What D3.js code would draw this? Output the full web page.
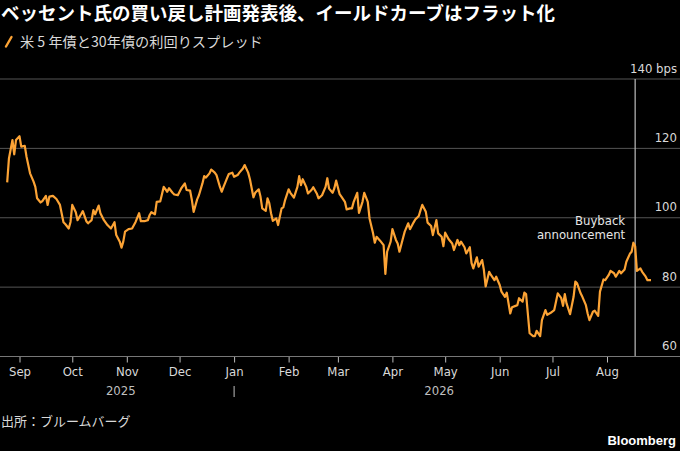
<!DOCTYPE html>
<html>
<head>
<meta charset="utf-8">
<script src="https://cdn.jsdelivr.net/npm/d3@7"></script>
<style>
  body { margin: 0; background: #000; }
  svg { display: block; }
  .cjk { font-family: "Noto Sans CJK JP", "Noto Sans", sans-serif; }
  .lat { font-family: "DejaVu Sans Condensed", "Liberation Sans Narrow", "DejaVu Sans", sans-serif; font-stretch: condensed; }
</style>
</head>
<body>
<div id="chart"></div>
<script>
// spread between US 5y and 30y yields, bps
let dates = [
  "2025-08-25","2025-08-26","2025-08-28","2025-08-29","2025-08-30","2025-09-01","2025-09-02","2025-09-04",
  "2025-09-05","2025-09-07","2025-09-09","2025-09-10","2025-09-11","2025-09-13","2025-09-14","2025-09-16",
  "2025-09-17","2025-09-18","2025-09-20","2025-09-22","2025-09-24","2025-09-26","2025-09-27","2025-09-29",
  "2025-09-30","2025-10-01","2025-10-03","2025-10-04","2025-10-06","2025-10-07","2025-10-09","2025-10-10",
  "2025-10-12","2025-10-13","2025-10-14","2025-10-16","2025-10-17","2025-10-19","2025-10-21","2025-10-22",
  "2025-10-23","2025-10-25","2025-10-26","2025-10-28","2025-10-29","2025-10-30","2025-10-31","2025-11-02",
  "2025-11-04","2025-11-06","2025-11-08","2025-11-09","2025-11-11","2025-11-13","2025-11-14","2025-11-15",
  "2025-11-17","2025-11-18","2025-11-20","2025-11-22","2025-11-24","2025-11-25","2025-11-27","2025-11-28",
  "2025-11-30","2025-12-02","2025-12-04","2025-12-05","2025-12-07","2025-12-08","2025-12-09","2025-12-11",
  "2025-12-12","2025-12-14","2025-12-15","2025-12-16","2025-12-18","2025-12-19","2025-12-21","2025-12-22",
  "2025-12-24","2025-12-25","2025-12-26","2025-12-28","2025-12-29","2025-12-31","2026-01-01","2026-01-03",
  "2026-01-04","2026-01-06","2026-01-07","2026-01-09","2026-01-10","2026-01-12","2026-01-13","2026-01-15",
  "2026-01-16","2026-01-17","2026-01-19","2026-01-20","2026-01-21","2026-01-22","2026-01-23","2026-01-25",
  "2026-01-26","2026-01-28","2026-01-29","2026-01-30","2026-02-01","2026-02-02","2026-02-04","2026-02-06",
  "2026-02-07","2026-02-08","2026-02-09","2026-02-11","2026-02-12","2026-02-14","2026-02-15","2026-02-17",
  "2026-02-18","2026-02-20","2026-02-22","2026-02-23","2026-02-24","2026-02-26","2026-02-27","2026-02-28",
  "2026-03-02","2026-03-03","2026-03-05","2026-03-06","2026-03-08","2026-03-09","2026-03-10","2026-03-12",
  "2026-03-13","2026-03-15","2026-03-16","2026-03-18","2026-03-19","2026-03-21","2026-03-22","2026-03-23",
  "2026-03-25","2026-03-27","2026-03-28","2026-03-29","2026-03-31","2026-04-01","2026-04-03","2026-04-04",
  "2026-04-05","2026-04-07","2026-04-08","2026-04-10","2026-04-11","2026-04-13","2026-04-14","2026-04-16",
  "2026-04-17","2026-04-18","2026-04-20","2026-04-21","2026-04-23","2026-04-24","2026-04-26","2026-04-27",
  "2026-04-29","2026-04-30","2026-05-01","2026-05-03","2026-05-05","2026-05-06","2026-05-08","2026-05-09",
  "2026-05-10","2026-05-12","2026-05-13","2026-05-15","2026-05-16","2026-05-17","2026-05-19","2026-05-20",
  "2026-05-22","2026-05-23","2026-05-24","2026-05-26","2026-05-27","2026-05-29","2026-05-30","2026-06-01",
  "2026-06-02","2026-06-04","2026-06-05","2026-06-07","2026-06-08","2026-06-10","2026-06-11","2026-06-12",
  "2026-06-14","2026-06-15","2026-06-16","2026-06-18","2026-06-20","2026-06-21","2026-06-22","2026-06-24",
  "2026-06-25","2026-06-27","2026-06-28","2026-06-30","2026-07-02","2026-07-03","2026-07-04","2026-07-06",
  "2026-07-07","2026-07-08","2026-07-09","2026-07-11","2026-07-13","2026-07-14","2026-07-15","2026-07-17",
  "2026-07-18","2026-07-20","2026-07-21","2026-07-22","2026-07-24","2026-07-25","2026-07-27","2026-07-28",
  "2026-07-30","2026-07-31","2026-08-02","2026-08-03","2026-08-05","2026-08-06","2026-08-08","2026-08-09",
  "2026-08-11","2026-08-12","2026-08-14","2026-08-15","2026-08-16","2026-08-17","2026-08-18","2026-08-20",
  "2026-08-21","2026-08-23","2026-08-24","2026-08-26"
];
let spread = [
  110.2,117.1,122.4,118.3,122.4,123.5,120.5,120.7,
  117.6,112.8,110.4,108.9,105.6,104.4,104.8,106.3,
  103.7,106.1,106.3,105.4,103.7,98.7,98.2,96.9,
  98.8,103.7,101.6,99.3,101.0,101.9,99.0,98.4,
  99.3,102.2,101.0,103.5,101.3,99.3,97.9,97.4,
  96.9,98.7,95.0,93.1,91.4,93.1,96.0,96.7,
  96.9,98.8,101.3,99.0,99.0,99.3,100.8,101.6,
  101.0,104.6,104.7,108.9,107.5,108.5,107.2,106.7,
  106.5,108.5,109.9,108.0,107.8,105.1,101.7,105.3,
  106.5,109.9,112.0,111.6,112.8,113.9,113.0,112.3,
  108.8,107.5,108.9,111.4,112.6,113.0,111.8,112.3,
  113.0,114.2,115.2,113.0,111.1,105.9,107.2,108.2,
  106.1,102.7,102.0,105.6,104.2,101.3,99.1,99.8,
  97.9,102.7,103.0,105.1,108.2,107.2,105.8,108.9,
  112.0,109.4,111.1,108.9,107.0,108.0,108.8,107.0,
  105.6,106.5,108.9,111.4,108.4,107.2,108.5,110.7,
  106.8,106.1,104.6,102.4,102.7,102.7,104.6,107.2,
  101.4,104.6,107.2,104.6,99.8,95.5,92.8,94.5,
  93.4,92.1,83.8,90.2,93.1,96.7,93.6,92.6,
  90.2,94.1,96.0,98.4,96.7,98.6,99.5,100.5,
  102.2,103.7,101.7,98.6,97.6,95.0,99.3,95.5,
  94.5,91.8,95.7,93.8,92.6,90.7,93.6,92.1,
  93.1,91.5,89.7,91.5,86.9,85.4,88.6,85.9,
  87.8,85.0,80.2,84.4,83.5,82.0,83.0,80.6,
  78.7,77.2,78.4,72.4,74.2,74.6,74.8,76.8,
  75.8,78.4,78.0,66.7,65.9,65.9,67.4,65.9,
  70.5,73.4,72.0,72.6,73.4,75.8,78.2,76.8,
  74.6,78.0,75.3,72.2,77.2,81.6,81.1,78.2,
  77.2,74.8,72.4,70.5,72.9,73.2,71.7,78.7,
  82.2,82.0,83.5,84.7,84.0,83.0,84.7,84.0,
  85.1,87.3,89.6,90.2,92.8,91.8,84.7,85.4,
  84.4,83.0,82.0,82.0
];

let monthTicks = ["2025-09-01","2025-10-01","2025-11-01","2025-12-01","2026-01-01","2026-02-01",
  "2026-03-01","2026-04-01","2026-05-01","2026-06-01","2026-07-01","2026-08-01"];
let monthLabels = ["Sep","Oct","Nov","Dec","Jan","Feb","Mar","Apr","May","Jun","Jul","Aug"];
let yearLabels = [{text: "2025", month: "2025-11-01"}, {text: "2026", month: "2026-05-01"}];
let yearBreak = "2026-01-01";
let yTicks = [60, 80, 100, 120, 140];
let buybackDate = "2026-08-17";

let title = "ベッセント氏の買い戻し計画発表後、イールドカーブはフラット化";
let legendText = "米 5 年債と30年債の利回りスプレッド";
let sourceText = "出所：ブルームバーグ";

let W = 680, H = 451;
let parse = d3.timeParse("%Y-%m-%d");
let data = dates.map((d, i) => ({date: parse(d), value: spread[i]}));

let svg = d3.select("#chart").append("svg").attr("width", W).attr("height", H);
svg.append("rect").attr("width", W).attr("height", H).attr("fill", "#000");

let xScale = d3.scaleTime()
  .domain([parse(monthTicks[0]), parse(monthTicks[monthTicks.length - 1])])
  .range([19.5, 607]);
let yScale = d3.scaleLinear().domain([60, 140]).range([356.5, 79]);

// title + legend
svg.append("text").attr("class", "cjk").attr("x", 1).attr("y", 20)
  .attr("fill", "#fff").attr("font-size", 18.5).attr("font-weight", "bold").text(title);

svg.append("line").attr("x1", 6).attr("y1", 46.5).attr("x2", 11.5).attr("y2", 37)
  .attr("stroke", "#fca335").attr("stroke-width", 2.4).attr("stroke-linecap", "round");
svg.append("text").attr("class", "cjk").attr("x", 20).attr("y", 47)
  .attr("fill", "#d9d9d9").attr("font-size", 14.2).text(legendText);

// horizontal grid + right labels
let grid = svg.append("g").attr("class", "grid");
grid.selectAll("line").data(yTicks.slice(1)).enter().append("line")
  .attr("x1", 0).attr("x2", W)
  .attr("y1", d => yScale(d)).attr("y2", d => yScale(d))
  .attr("stroke", "#555").attr("stroke-width", 1);
grid.selectAll("text").data(yTicks).enter().append("text")
  .attr("class", "lat")
  .attr("x", 677).attr("y", d => yScale(d) - 6.5)
  .attr("text-anchor", "end").attr("fill", "#d9d9d9").attr("font-size", 13)
  .text(d => d === 140 ? d + " bps" : d);

// buyback marker
let bx = xScale(parse(buybackDate));
svg.append("line").attr("x1", bx).attr("x2", bx)
  .attr("y1", yScale(140)).attr("y2", yScale(60))
  .attr("stroke", "#bdbdbd").attr("stroke-width", 1.2);
let note = svg.append("text").attr("class", "lat").attr("fill", "#e6e6e6")
  .attr("font-size", 13).attr("text-anchor", "end");
note.append("tspan").attr("x", bx - 10).attr("y", 225).text("Buyback");
note.append("tspan").attr("x", bx - 10).attr("y", 239).text("announcement");

// bottom axis
let xAxis = d3.axisBottom(xScale)
  .tickValues(monthTicks.map(parse))
  .tickFormat((d, i) => monthLabels[i])
  .tickSize(6).tickPadding(4);
let axisG = svg.append("g").attr("class", "xAxis lat")
  .attr("transform", "translate(0," + yScale(60) + ")")
  .call(xAxis);
axisG.select(".domain").remove();
axisG.selectAll(".tick line").attr("stroke", "#bbb");
axisG.selectAll(".tick text").attr("fill", "#d9d9d9").attr("font-size", 13)
  .attr("font-family", null);
axisG.attr("font-family", null).attr("font-size", null);
svg.append("line").attr("x1", 0).attr("x2", W)
  .attr("y1", yScale(60)).attr("y2", yScale(60))
  .attr("stroke", "#777").attr("stroke-width", 1);

let years = svg.append("g").attr("class", "lat");
years.selectAll("text").data(yearLabels).enter().append("text")
  .attr("x", d => xScale(parse(d.month)) - 6).attr("y", 395)
  .attr("text-anchor", "middle").attr("fill", "#bfbfbf").attr("font-size", 13)
  .text(d => d.text);
years.append("line")
  .attr("x1", xScale(parse(yearBreak))).attr("x2", xScale(parse(yearBreak)))
  .attr("y1", 386).attr("y2", 397).attr("stroke", "#bfbfbf").attr("stroke-width", 1);

// the spread line
let line = d3.line().x(d => xScale(d.date)).y(d => yScale(d.value));
svg.append("path").datum(data)
  .attr("d", line)
  .attr("fill", "none")
  .attr("stroke", "#fca335")
  .attr("stroke-width", 2.2)
  .attr("stroke-linejoin", "round");

// footer
svg.append("text").attr("class", "cjk").attr("x", 1).attr("y", 426)
  .attr("fill", "#d9d9d9").attr("font-size", 13).text(sourceText);
svg.append("text").attr("x", 676).attr("y", 445)
  .attr("text-anchor", "end").attr("fill", "#fff")
  .attr("font-family", "'Liberation Sans', 'DejaVu Sans', sans-serif")
  .attr("font-weight", "bold").attr("font-size", 13).text("Bloomberg");
</script>
</body>
</html>
